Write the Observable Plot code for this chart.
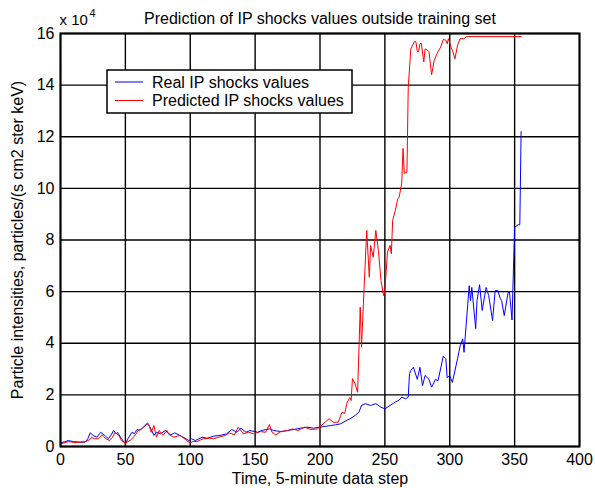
<!DOCTYPE html>
<html>
<head>
<meta charset="utf-8">
<script src="https://cdn.jsdelivr.net/npm/d3@7"></script>
<script src="https://cdn.jsdelivr.net/npm/@observablehq/plot@0.6"></script>
<style>
  html, body { margin: 0; padding: 0; background: #fff; }
  #chart { width: 595px; height: 488px; }
</style>
</head>
<body>
<div id="chart"></div>
<script>
// ---- data (values in units of 10^4) ----
const realT = [0,3,6,10,15,19,21,23,25,28,31,34,37,39,41,43,44,47,49,50,52,55,57,59,61,64,67,69,72,74,77,81,83,85,88,92,96,99,101,104,109,113,118,123,128,132,136,139,143,146,152,155,161,164,170,175,180,185,190,195,200,204,208,212,216,220,223,227,230,232,235,239,243,247,250,254,258,261,263,266,268,269,270,272,275,277,279,281,284,286,289,291,295,297,298,300,302,306,308,310,311,315,316,317,320,321,323,325,328,330,333,335,337,339,340,342,345,346,348,350,353,354,355];
const realV = [0.14,0.18,0.23,0.19,0.17,0.17,0.3,0.53,0.43,0.36,0.55,0.43,0.3,0.45,0.62,0.49,0.55,0.3,0.17,0.1,0.3,0.55,0.5,0.66,0.62,0.75,0.88,0.75,0.43,0.55,0.49,0.62,0.5,0.45,0.53,0.43,0.32,0.23,0.3,0.23,0.36,0.32,0.4,0.43,0.49,0.66,0.55,0.71,0.55,0.62,0.55,0.62,0.68,0.62,0.58,0.62,0.66,0.71,0.75,0.71,0.75,0.78,0.81,0.84,0.88,1.0,1.07,1.2,1.33,1.59,1.66,1.59,1.66,1.52,1.46,1.59,1.72,1.8,1.91,1.85,1.91,2.82,2.95,3.07,2.6,3.07,2.36,2.75,2.6,2.3,2.6,2.55,3.5,3.4,2.67,2.75,2.48,3.4,3.9,4.17,3.65,6.23,5.65,6.16,4.57,5.65,6.27,5.27,6.16,5.85,4.88,6.04,6.04,5.73,5.65,5.07,5.97,6.0,4.9,8.5,8.6,8.6,12.2];

const predT = [0,6,12,19,22,24,26,29,32,35,38,40,42,45,47,50,54,57,60,63,65,67,68,70,72,74,76,79,82,84,87,90,92,95,97,100,102,105,110,115,118,122,127,130,134,137,141,145,149,154,158,161,163,166,170,175,179,183,188,193,198,201,204,207,210,214,217,219,221,223,224,225,227,229,231,232,234,236,238,239,241,243,245,247,249,250,252,254,255,256,258,260,261,263,264,265,267,268,270,271,273,274,275,276,277,278,280,281,283,284,286,288,290,291,293,295,297,298,299,301,302,304,306,308,311,313,355];
const predV = [0.1,0.19,0.15,0.19,0.25,0.36,0.3,0.3,0.45,0.3,0.23,0.35,0.55,0.43,0.23,0.13,0.25,0.4,0.62,0.7,0.81,0.92,0.85,0.55,0.81,0.36,0.62,0.43,0.62,0.45,0.36,0.4,0.43,0.33,0.23,0.14,0.2,0.19,0.3,0.32,0.3,0.36,0.43,0.53,0.45,0.75,0.49,0.55,0.49,0.58,0.55,0.85,0.55,0.45,0.58,0.62,0.68,0.62,0.75,0.66,0.68,0.81,0.94,1.08,0.94,0.94,1.33,1.28,1.72,1.9,1.78,2.63,2.44,2.1,5.4,3.85,6.17,8.37,6.56,7.79,7.33,8.37,7.6,6.43,5.85,6.04,7.53,7.79,7.47,8.76,9.14,9.6,9.66,10.2,11.55,10.58,10.63,13.9,15.4,15.5,15.7,15.66,15.3,15.3,15.6,15.63,14.9,15.4,15.35,15.3,14.4,14.95,15.2,15.3,15.47,15.77,15.74,15.6,15.8,15.47,15.35,15.02,15.54,15.8,15.8,15.88,15.88];

const xTicks = [0,50,100,150,200,250,300,350,400];
const yTicks = [0,2,4,6,8,10,12,14,16];
const seriesNames = ["Real IP shocks values", "Predicted IP shocks values"];
const seriesColors = ["#0000ff", "#ff0000"];
const titleText = "Prediction of IP shocks values outside training set";
const xLabel = "Time, 5-minute data step";
const yLabel = "Particle intensities, particles/(s cm2 ster keV)";

const real = realT.map((t, i) => ({t, v: realV[i]}));
const pred = predT.map((t, i) => ({t, v: predV[i]}));

const font = "'Liberation Sans', Arial, Helvetica, sans-serif";
const fs = 16;

const chart = Plot.plot({
  width: 595,
  height: 488,
  marginLeft: 60,
  marginRight: 16,
  marginTop: 33,
  marginBottom: 42,
  style: {fontFamily: font, fontSize: fs + "px", color: "black", background: "white"},
  x: {domain: [0, 400]},
  y: {domain: [0, 16]},
  marks: [
    Plot.gridX(xTicks, {stroke: "black", strokeOpacity: 1, strokeWidth: 1.4}),
    Plot.gridY(yTicks, {stroke: "black", strokeOpacity: 1, strokeWidth: 1.4}),
    Plot.line(real, {x: "t", y: "v", stroke: seriesColors[0], strokeWidth: 1}),
    Plot.line(pred, {x: "t", y: "v", stroke: seriesColors[1], strokeWidth: 1}),
    Plot.frame({stroke: "black", strokeWidth: 2}),
    Plot.axisX(xTicks, {tickSize: 0, tickPadding: 7, fontSize: fs, label: null}),
    Plot.axisY(yTicks, {tickSize: 0, tickPadding: 6, fontSize: fs, label: null}),
    Plot.text([titleText], {frameAnchor: "top", dy: -15, lineAnchor: "middle", fontSize: fs, textAnchor: "middle", text: d => d}),
    Plot.text([xLabel], {frameAnchor: "bottom", dy: 32, lineAnchor: "middle", fontSize: fs, textAnchor: "middle", text: d => d}),
    Plot.text([yLabel], {frameAnchor: "left", dx: -43, rotate: -90, fontSize: fs, textAnchor: "middle", text: d => d}),
    Plot.text(["x 10"], {frameAnchor: "top-left", dx: -1, dy: -13, lineAnchor: "middle", fontSize: 15, textAnchor: "start", text: d => d}),
    Plot.text(["4"], {frameAnchor: "top-left", dx: 29, dy: -20, lineAnchor: "middle", fontSize: 11, textAnchor: "start", text: d => d})
  ]
});

document.getElementById("chart").appendChild(chart);

// legend box (MATLAB style)
const svg = d3.select(chart);
const lg = svg.append("g").attr("font-family", font).attr("font-size", fs).attr("text-anchor", "start");
lg.append("rect").attr("x", 107).attr("y", 70).attr("width", 245).attr("height", 43)
  .attr("fill", "white").attr("stroke", "black").attr("stroke-width", 1.5);
seriesNames.forEach((name, i) => {
  const y = 82 + i * 18.5;
  lg.append("line").attr("x1", 115).attr("x2", 143).attr("y1", y).attr("y2", y)
    .attr("stroke", seriesColors[i]).attr("stroke-width", 1);
  lg.append("text").attr("x", 152).attr("y", y).attr("dy", "0.35em")
    .attr("fill", "black").attr("text-anchor", "start").text(name);
});
</script>
</body>
</html>
